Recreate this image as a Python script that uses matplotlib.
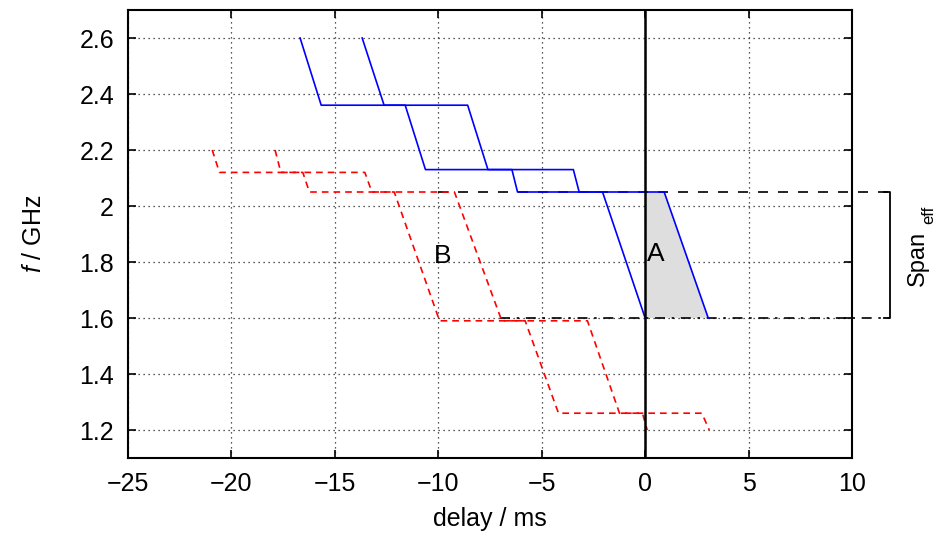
import matplotlib
matplotlib.use("Agg")
import matplotlib.pyplot as plt
from matplotlib.patches import Polygon

plt.rcParams['font.family'] = ['Liberation Sans', 'DejaVu Sans']
plt.rcParams['mathtext.fontset'] = 'custom'
plt.rcParams['mathtext.rm'] = 'Liberation Sans'
plt.rcParams['mathtext.it'] = 'Liberation Sans:italic'

# blue traces (delay in ms, frequency in GHz)
blue1_x = [-16.68, -15.66, -11.60, -10.62, -6.44, -6.17, -2.06, 0.0]
blue1_f = [2.60, 2.36, 2.36, 2.13, 2.13, 2.05, 2.05, 1.60]
blue2_x = [-13.68, -12.62, -8.58, -7.60, -3.47, -3.19, 0.92, 3.05]
blue2_f = [2.60, 2.36, 2.36, 2.13, 2.13, 2.05, 2.05, 1.60]

# red traces
red1_x = [-20.93, -20.58, -16.55, -16.23, -12.13, -9.94, -5.80, -4.19, -0.13, 0.10]
red1_f = [2.20, 2.12, 2.12, 2.05, 2.05, 1.59, 1.59, 1.26, 1.26, 1.20]
red2_x = [-17.89, -17.61, -13.55, -13.21, -9.22, -6.93, -2.79, -1.24, 2.74, 3.10]
red2_f = [2.20, 2.12, 2.12, 2.05, 2.05, 1.59, 1.59, 1.26, 1.26, 1.20]

# effective span limits
span_hi = 2.05
span_lo = 1.60
span_x_end = 11.85

# shaded region A
shade_x = [0.0, 0.92, 3.05, 0.0]
shade_f = [2.05, 2.05, 1.60, 1.60]

xticks = [-25, -20, -15, -10, -5, 0, 5, 10]
yticks = [1.2, 1.4, 1.6, 1.8, 2.0, 2.2, 2.4, 2.6]
ytick_labels = ['1.2', '1.4', '1.6', '1.8', '2', '2.2', '2.4', '2.6']

fig = plt.figure(figsize=(9.4, 5.35), dpi=100)
ax = fig.add_axes([128 / 940, 1 - 458 / 535, (852 - 128) / 940, (458 - 10) / 535])

ax.add_patch(Polygon(list(zip(shade_x, shade_f)), closed=True,
                     facecolor='#dedede', edgecolor='none', zorder=1))

ax.grid(True, linestyle=(0, (1, 3)), color='#222222', linewidth=0.9)
ax.set_axisbelow(True)

ax.plot(red1_x, red1_f, color='red', linestyle=(0, (4, 3)), linewidth=1.2, zorder=3)
ax.plot(red2_x, red2_f, color='red', linestyle=(0, (4, 3)), linewidth=1.2, zorder=3)
ax.plot(blue1_x, blue1_f, color='blue', linewidth=1.2, zorder=4)
ax.plot(blue2_x, blue2_f, color='blue', linewidth=1.2, zorder=4)

ax.axvline(0, color='black', linewidth=1.8, zorder=5)

# span lines extending past the axes
ax.plot([-10.0, span_x_end], [span_hi, span_hi], color='black', linestyle=(0, (6, 6)),
        linewidth=1.2, clip_on=False, zorder=2)
ax.plot([-7.0, span_x_end], [span_lo, span_lo], color='black', linestyle=(0, (6, 4, 1.5, 4)),
        linewidth=1.2, clip_on=False, zorder=2)
ax.plot([span_x_end - 0.3, span_x_end, span_x_end, span_x_end - 0.3],
        [span_hi, span_hi, span_lo, span_lo], color='black', linewidth=1.3,
        clip_on=False, zorder=2)
ax.text(13.2, 1.812, 'Span', rotation=90, ha='center', va='center', fontsize=17)
ax.text(13.72, 1.970, 'eff', rotation=90, ha='center', va='center', fontsize=12)

ax.text(0.5, 1.83, 'A', ha='center', va='center', fontsize=19, zorder=6)
ax.text(-9.8, 1.82, 'B', ha='center', va='center', fontsize=19, zorder=6)

ax.set_xlim(-25, 10)
ax.set_ylim(1.1, 2.7)
ax.set_xticks(xticks)
ax.set_yticks(yticks)
ax.set_yticklabels(ytick_labels)
ax.tick_params(direction='in', length=6, width=1.2, top=True, right=True,
               labelsize=18, pad=10)
for s in ax.spines.values():
    s.set_linewidth(1.5)

ax.set_xlabel('delay / ms', fontsize=18, labelpad=8)
ax.set_ylabel(r'$f$ / GHz', fontsize=18, labelpad=24)

fig.savefig('out.png', dpi=100)
